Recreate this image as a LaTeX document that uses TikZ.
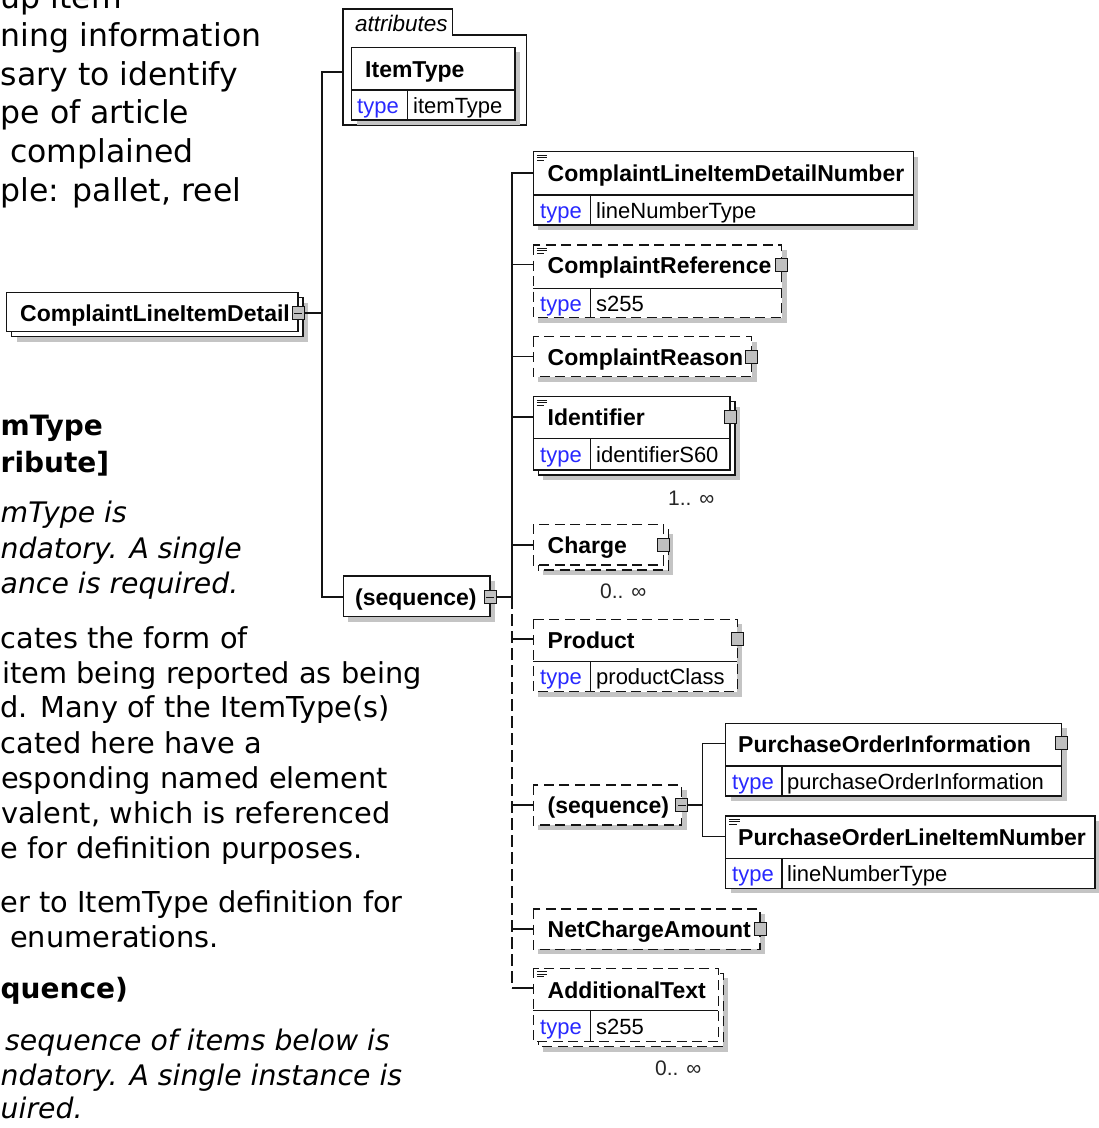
\documentclass[tikz,border=0pt]{standalone}
\usepackage{fontspec}
\setmainfont{DejaVu Sans}[ItalicFont={DejaVu Sans Oblique},BoldFont={DejaVu Sans Bold},BoldItalicFont={DejaVu Sans Bold Oblique}]
\newfontfamily\dgfam{Liberation Sans}
\definecolor{linecol}{RGB}{20,20,20}
\definecolor{shadowcol}{RGB}{196,196,196}
\definecolor{sqcol}{RGB}{192,192,192}
\definecolor{typeblue}{RGB}{40,40,255}
\newcommand\lblfont{\dgfam\bfseries\fontsize{23}{27}\selectfont}
\newcommand\typfont{\dgfam\fontsize{22}{26}\selectfont}
\newcommand\multfont{\dgfam\fontsize{21}{25}\selectfont}
\newcommand\attrfont{\dgfam\itshape\fontsize{22.5}{26}\selectfont}
\newcommand\topfont{\fontsize{31.5}{38}\selectfont}
\newcommand\bodyfont{\fontsize{28.8}{35}\selectfont}
\newcommand\headfont{\bfseries\fontsize{28}{35}\selectfont}
\newcommand\obfont{\itshape\fontsize{28.3}{35}\selectfont}
% shadowed box: style, l, t, r, b
\newcommand\ebox[5]{%
  \fill[shd] ({#2+5},{#3+5}) rectangle ({#4+5},{#5+5});
  \path[#1] (#2,#3) rectangle (#4,#5);}
% stacked box (several occurrences)
\newcommand\stackbox[5]{%
  \fill[shd] ({#2+10},{#3+10}) rectangle ({#4+10},{#5+10});
  \path[#1] ({#2+5},{#3+5}) rectangle ({#4+5},{#5+5});
  \path[#1] (#2,#3) rectangle (#4,#5);}
% type row: l, r, divider y, vertical x, bottom
\newcommand\trow[5]{%
  \draw[ln] (#1,#3) -- (#2,#3);
  \draw[ln] (#4,#3) -- (#4,#5);}
% expand square: name, x, y
\newcommand\xsq[3]{%
  \node[sq] (#1) at (#2,#3) {};}
\newcommand\xminus[1]{%
  \draw[line width=1pt, draw=linecol] ([xshift=2pt]#1.west) -- ([xshift=-2pt]#1.east);}
% documentation icon: l, t
\newcommand\docicon[2]{%
  \draw[doc] ({#1+3.5},{#2+3.2}) -- ({#1+14},{#2+3.2});
  \draw[doc] ({#1+3.5},{#2+5.8}) -- ({#1+14},{#2+5.8});
  \draw[doc] ({#1+3.5},{#2+8.4}) -- ({#1+11},{#2+8.4});}
\begin{document}
\begin{tikzpicture}[x=1pt,y=-1pt,
  ln/.style={line width=1.3pt, draw=linecol},
  boxs/.style={ln, fill=white},
  boxd/.style={ln, fill=white, dash pattern=on 10pt off 5.5pt},
  shd/.style={fill=shadowcol},
  lab/.style={font=\lblfont, anchor=base west, inner sep=0pt},
  tkey/.style={font=\typfont, text=typeblue, anchor=base west, inner sep=0pt},
  tval/.style={font=\typfont, anchor=base west, inner sep=0pt},
  mult/.style={font=\multfont, anchor=base west, inner sep=0pt, text=black!85},
  sq/.style={fill=sqcol, draw=linecol, line width=1pt, minimum width=12pt, minimum height=13pt, inner sep=0pt, outer sep=0pt},
  conn/.style={line width=1.3pt, draw=linecol},
  dconn/.style={conn, dash pattern=on 12pt off 5pt},
  doc/.style={line width=0.8pt, draw=linecol},
  tx/.style={inner sep=0pt, text=black, anchor=base west}]
\path[use as bounding box] (0,0) rectangle (1099,1128);
\fill[white] (0,0) rectangle (1099,1128);

% ---------------- left documentation text (cropped at the left) -------------
\begin{scope}
\clip (0,0) rectangle (1099,1128);
\node[tx, font=\topfont] (t1) at (0.5,8) {up item};
\node[tx, font=\topfont] (t2) at (0.5,46) {ning information};
\node[tx, font=\topfont] (t3) at (0.5,85) {sary to identify};
\node[tx, font=\topfont] (t4) at (0.5,123.5) {pe of article};
\node[tx, font=\topfont] (t5) at (10,162) {complained};
\node[tx, font=\topfont] (t6) at (0.5,201) {ple: pallet, reel};

\node[tx, font=\headfont] (h1) at (0.5,435) {mType};
\node[tx, font=\headfont] (h2) at (0.5,472) {ribute]};
\node[tx, font=\obfont] (i1) at (0.5,522) {mType is};
\node[tx, font=\obfont] (i2) at (0.5,558) {ndatory. A single};
\node[tx, font=\obfont] (i3) at (0.5,593) {ance is required.};

\node[tx, font=\bodyfont] (b1) at (0.5,648) {cates the form of};
\node[tx, font=\bodyfont] (b2) at (2,683) {item being reported as being};
\node[tx, font=\bodyfont] (b3) at (0.5,717.5) {d. Many of the ItemType(s)};
\node[tx, font=\bodyfont] (b4) at (0.5,753) {cated here have a};
\node[tx, font=\bodyfont] (b5) at (1,788) {esponding named element};
\node[tx, font=\bodyfont] (b6) at (1,823) {valent, which is referenced};
\node[tx, font=\bodyfont] (b7) at (0.5,858) {e for definition purposes.};
\node[tx, font=\bodyfont] (b8) at (0.5,912) {er to ItemType definition for};
\node[tx, font=\bodyfont] (b9) at (10,947) {enumerations.};

\node[tx, font=\headfont] (h3) at (0.5,998) {quence)};
\node[tx, font=\obfont] (i4) at (5,1050) {sequence of items below is};
\node[tx, font=\obfont] (i5) at (0.5,1085) {ndatory. A single instance is};
\node[tx, font=\obfont] (i6) at (0.5,1118) {uired.};
\end{scope}

% ---------------- attributes group ----------------
\path[boxs] (343,9) -- (452.7,9) -- (452.7,35) -- (526.7,35) -- (526.7,125) -- (343,125) -- cycle;
\node[font=\attrfont, anchor=base west, inner sep=0pt] (attrlbl) at (355,31) {attributes};
\ebox{boxs}{351.7}{47.3}{515}{120}
\trow{351.7}{515}{90}{407.3}{120}
\node[lab] (itemtype) at (365,77) {ItemType};
\node[tkey] (itk) at (357,113) {type};
\node[tval] (itv) at (413,113) {itemType};

% ---------------- root element ----------------
\stackbox{boxs}{6.7}{292.7}{298}{331.7}
\node[lab] (root) at (20,321) {ComplaintLineItemDetail};
\xsq{sqroot}{298}{313}
\xminus{sqroot}

% ---------------- outer sequence ----------------
\ebox{boxs}{343.3}{576}{490}{616.7}
\node[lab] (seq1) at (355,605.5) {(sequence)};
\xsq{sqseq1}{490}{597}
\xminus{sqseq1}

% ---------------- children ----------------
% 1 ComplaintLineItemDetailNumber
\ebox{boxs}{533.3}{151.7}{913.3}{225}
\trow{533.3}{913.3}{195}{590.7}{225}
\docicon{533.3}{151.7}
\node[lab] (clidn) at (547.5,181.5) {ComplaintLineItemDetailNumber};
\node[tkey] (k1) at (540,218) {type};
\node[tval] (v1) at (596,218) {lineNumberType};

% 2 ComplaintReference
\ebox{boxd}{533.3}{245}{781.7}{317.7}
\trow{533.3}{781.7}{288.3}{590.7}{317.7}
\docicon{533.3}{245}
\node[lab] (cref) at (547.5,273) {ComplaintReference};
\node[tkey] (k2) at (540,311) {type};
\node[tval] (v2) at (596,311) {s255};
\xsq{sq2}{781.7}{264.5}

% 3 ComplaintReason
\ebox{boxd}{533.3}{336.7}{751.7}{376.7}
\node[lab] (creason) at (547.5,365) {ComplaintReason};
\xsq{sq3}{751.7}{356.5}

% 4 Identifier
\stackbox{boxs}{533.3}{396.7}{730}{470}
\trow{533.3}{730}{438.3}{590.7}{470}
\docicon{533.3}{396.7}
\node[lab] (ident) at (547.5,425) {Identifier};
\node[tkey] (k4) at (540,462) {type};
\node[tval] (v4) at (596,462) {identifierS60};
\xsq{sq4}{730}{417}
\node[mult] (m4) at (668,505) {1.. ∞};

% 5 Charge
\stackbox{boxd}{533.3}{524.3}{663.3}{565}
\node[lab] (charge) at (547.5,553) {Charge};
\xsq{sq5}{663.3}{545}
\node[mult] (m5) at (600,598) {0.. ∞};

% 6 Product
\ebox{boxd}{533.3}{619.3}{737.3}{691.7}
\trow{533.3}{737.3}{661.7}{590.7}{691.7}
\node[lab] (product) at (547.5,648) {Product};
\node[tkey] (k6) at (540,684.5) {type};
\node[tval] (v6) at (596,684.5) {productClass};
\xsq{sq6}{737.3}{639}

% 7 inner sequence
\ebox{boxd}{533.3}{785}{681.8}{825}
\node[lab] (seq2) at (547.5,813.5) {(sequence)};
\xsq{sq7}{681.8}{805}
\xminus{sq7}

% 8 PurchaseOrderInformation
\ebox{boxs}{725.8}{723.3}{1061.8}{796}
\trow{725.8}{1061.8}{766}{782}{796}
\node[lab] (poi) at (738,752) {PurchaseOrderInformation};
\node[tkey] (k8) at (732,789) {type};
\node[tval] (v8) at (787,789) {purchaseOrderInformation};
\xsq{sq8}{1061.8}{743.3}

% 9 PurchaseOrderLineItemNumber
\ebox{boxs}{725.8}{816}{1095}{888.3}
\trow{725.8}{1095}{858.3}{782}{888.3}
\docicon{725.8}{816}
\node[lab] (polin) at (738,845.5) {PurchaseOrderLineItemNumber};
\node[tkey] (k9) at (732,881) {type};
\node[tval] (v9) at (787,881) {lineNumberType};

% 10 NetChargeAmount
\ebox{boxd}{533.3}{909}{760}{949.3}
\node[lab] (nca) at (547.5,937) {NetChargeAmount};
\xsq{sq10}{760}{929}

% 11 AdditionalText
\stackbox{boxd}{533.3}{968.3}{718.3}{1041.7}
\trow{533.3}{718.3}{1010.7}{590.7}{1041.7}
\docicon{533.3}{968.3}
\node[lab] (addtext) at (547.5,998) {AdditionalText};
\node[tkey] (k11) at (540,1034) {type};
\node[tval] (v11) at (596,1034) {s255};
\node[mult] (m11) at (655,1075) {0.. ∞};

% ---------------- connectors ----------------
\coordinate (attrW) at (343,72);
\coordinate (jA) at (322,72);
\coordinate (jR) at (322,313);
\coordinate (jS) at (322,597);
\coordinate (seq1W) at (343.3,597);
\draw[conn] (attrW) -- (jA) -- (jS) -- (seq1W);
\draw[conn] (sqroot.east) -- (jR);

\coordinate (tr0) at (512,173);
\coordinate (trS) at (512,597);
\coordinate (trE) at (512,988);
\coordinate (c1W) at (533.3,173);
\coordinate (c11W) at (533.3,988);
\draw[conn] (sqseq1.east) -- (trS);
\draw[conn] (c1W) -- (tr0) -- (trS);
\draw[dconn] (trS) -- (trE);
\draw[conn] (trE) -- (c11W);
\foreach \yy/\nm in {264.5/c2, 356.5/c3, 417/c4, 545/c5, 639/c6, 805/c7, 929/c10}{
  \coordinate (\nm J) at (512,\yy);
  \coordinate (\nm W) at (533.3,\yy);
  \draw[conn] (\nm J) -- (\nm W);
}
\coordinate (s7J) at (702.8,805);
\coordinate (s8) at (702.8,743.3);
\coordinate (s9) at (702.8,836.7);
\coordinate (c8W) at (725.8,743.3);
\coordinate (c9W) at (725.8,836.7);
\draw[conn] (sq7.east) -- (s7J);
\draw[conn] (c8W) -- (s8) -- (s9) -- (c9W);
\end{tikzpicture}
\end{document}
